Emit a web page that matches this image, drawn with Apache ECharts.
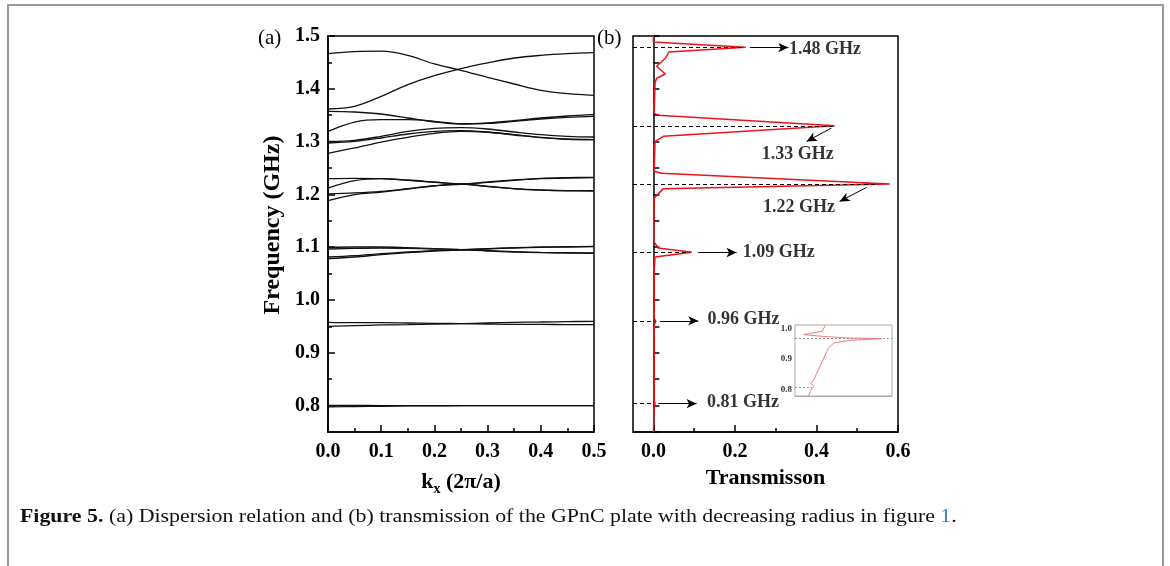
<!DOCTYPE html>
<html>
<head>
<meta charset="UTF-8">
<title>Figure 5</title>
<script src="https://cdn.jsdelivr.net/npm/echarts@6/dist/echarts.min.js"></script>
<style>
body{margin:0;background:#fff;}
#wrap{position:relative;width:1170px;height:566px;overflow:hidden;}
#frame{position:absolute;left:7px;top:4px;width:1153px;height:600px;border:2px solid #9a9a9a;border-bottom:none;}
#main{position:absolute;left:0;top:0;width:1170px;height:566px;}
</style>
</head>
<body>
<div id="wrap"><div id="frame"></div><div id="main"></div></div>
<script>
// (a) dispersion bands, frequency (GHz) at each kx
var kx = [0, 0.05, 0.1, 0.15, 0.2, 0.25, 0.3, 0.35, 0.4, 0.45, 0.5];
var bandA = [1.4665, 1.4705, 1.4712, 1.4634, 1.4470, 1.4350, 1.4217, 1.4091, 1.3971, 1.3908, 1.3876];
var bandB = [1.3617, 1.3668, 1.3857, 1.4078, 1.4249, 1.4381, 1.4489, 1.4583, 1.4634, 1.4665, 1.4684];
var bandC = [1.3573, 1.3561, 1.3523, 1.3447, 1.3371, 1.3333, 1.3352, 1.3396, 1.3447, 1.3485, 1.3510];
var bandD = [1.3194, 1.3371, 1.3415, 1.3415, 1.3384, 1.3340, 1.3346, 1.3384, 1.3428, 1.3460, 1.3479];
var bandE1 = [1.3005, 1.3024, 1.3100, 1.3194, 1.3251, 1.3264, 1.3239, 1.3182, 1.3131, 1.3100, 1.3087];
var bandE2 = [1.2973, 1.3005, 1.3068, 1.3144, 1.3194, 1.3207, 1.3182, 1.3131, 1.3081, 1.3049, 1.3037];
var bandE3 = [1.2778, 1.2879, 1.2992, 1.3081, 1.3157, 1.3194, 1.3176, 1.3125, 1.3074, 1.3043, 1.3037];
var bandG1 = [1.2298, 1.2304, 1.2298, 1.2266, 1.2229, 1.2197, 1.2153, 1.2109, 1.2083, 1.2071, 1.2071];
var bandG2 = [1.2121, 1.2260, 1.2298, 1.2273, 1.2235, 1.2197, 1.2235, 1.2273, 1.2304, 1.2317, 1.2323];
var bandG3 = [1.2008, 1.2027, 1.2058, 1.2109, 1.2165, 1.2197, 1.2150, 1.2106, 1.2080, 1.2068, 1.2064];
var bandG4 = [1.1881, 1.1995, 1.2045, 1.2102, 1.2159, 1.2191, 1.2229, 1.2266, 1.2298, 1.2311, 1.2317];
var bandH1 = [1.0997, 1.1004, 1.1004, 1.0991, 1.0972, 1.0953, 1.0934, 1.0915, 1.0903, 1.0896, 1.0890];
var bandH2 = [1.0966, 1.0979, 1.0985, 1.0979, 1.0966, 1.0953, 1.0928, 1.0909, 1.0896, 1.0890, 1.0884];
var bandH3 = [1.0814, 1.0840, 1.0878, 1.0909, 1.0934, 1.0953, 1.0972, 1.0991, 1.1004, 1.1010, 1.1016];
var bandH4 = [1.0783, 1.0814, 1.0859, 1.0896, 1.0928, 1.0947, 1.0966, 1.0985, 1.0997, 1.1004, 1.1010];
var bandI1 = [0.9577, 0.9571, 0.9571, 0.9564, 0.9558, 0.9552, 0.9545, 0.9539, 0.9539, 0.9533, 0.9533];
var bandI2 = [0.9501, 0.9514, 0.9527, 0.9533, 0.9545, 0.9552, 0.9564, 0.9577, 0.9583, 0.9590, 0.9596];
var bandJ1 = [0.8005, 0.8003, 0.8001, 0.8000, 0.8000, 0.8000, 0.8000, 0.8000, 0.8000, 0.8000, 0.8000];
var bandJ2 = [0.7975, 0.7982, 0.7988, 0.7993, 0.7996, 0.7998, 0.7999, 0.7999, 0.8000, 0.8000, 0.8000];
var bands = [bandA, bandB, bandC, bandD, bandE1, bandE2, bandE3, bandG1, bandG2, bandG3, bandG4,
             bandH1, bandH2, bandH3, bandH4, bandI1, bandI2, bandJ1, bandJ2];

// (b) transmission curve, read top to bottom
var transVal  = [0, 0, 0.226, 0.038, 0.030, 0.008, 0.029, 0.008, 0.004, 0.002, 0.012, 0.445, 0.0245, 0.004,
                 0.002, 0.020, 0.58, 0.0245, 0.002, 0.001, 0.012, 0.094, 0.004, 0.002, 0.002, 0.006, 0.002,
                 0.002, 0.004, 0.002, 0];
var transFreq = [1.5, 1.4886, 1.4785, 1.4697, 1.4583, 1.4426, 1.428, 1.420, 1.411, 1.354, 1.350, 1.330, 1.310, 1.3005,
                 1.2437, 1.240, 1.2197, 1.2109, 1.1932, 1.1111, 1.0985, 1.0903, 1.0815, 1.0574, 0.9658, 0.9595, 0.9533,
                 0.81, 0.8036, 0.797, 0.75];

// peaks marked with dashed lines, arrows and labels
var peakFreq  = [1.478, 1.33, 1.2197, 1.09, 0.9598, 0.8036];
var dashEnd   = [0.225, 0.445, 0.545, 0.09, 0.0, 0.0];
var peakText  = ['1.48 GHz', '1.33 GHz', '1.22 GHz', '1.09 GHz', '0.96 GHz', '0.81 GHz'];
var arrowFrom = [[0.237, 1.478], [0.437, 1.3258], [0.523, 1.2133], [0.110, 1.09], [0.016, 0.9605], [0.012, 0.8036]];
var arrowTo   = [[0.331, 1.478], [0.376, 1.3004], [0.457, 1.1867], [0.204, 1.09], [0.110, 0.9605], [0.106, 0.8036]];
var textAt    = [[0.3325, 1.474], [0.2655, 1.2765], [0.269, 1.1754], [0.219, 1.0894], [0.133, 0.9627], [0.1315, 0.8055]];

// inset: zoom of the 0.78-1.0 GHz region
var insetX = [2.75, 2.45, 0.78, 2.6, 4.87, 7.89, 4.87, 3.5, 3.04, 1.69, 1.45, 1.69, 1.45, 1.23];
var insetF = [1.011, 0.992, 0.981, 0.975, 0.970, 0.9677, 0.962, 0.953, 0.937, 0.831, 0.82, 0.809, 0.798, 0.778];

var SERIF = 'Liberation Serif';
var tickFont = {fontFamily: SERIF, fontWeight: 'bold', fontSize: 20, color: '#000'};
var blk = {lineStyle: {color: '#000', width: 1.5}};

function pairs(xs, ys) { return xs.map(function (x, i) { return [x, ys[i]]; }); }

var series = bands.map(function (b) {
    return {
        type: 'line', xAxisIndex: 0, yAxisIndex: 0, data: pairs(kx, b),
        smooth: 0.35, showSymbol: false, silent: true,
        lineStyle: {color: '#111', width: 1.3}
    };
});

series.push({
    type: 'line', xAxisIndex: 1, yAxisIndex: 2, data: pairs(transVal, transFreq),
    showSymbol: false, silent: true, z: 3,
    lineStyle: {color: '#e8141b', width: 1.5},
    markLine: {
        silent: true, symbol: ['none', 'none'],
        lineStyle: {color: '#000', width: 1, type: [4, 3]},
        label: {show: false},
        data: peakFreq.map(function (f, i) { return [{coord: [-0.05, f]}, {coord: [dashEnd[i], f]}]; })
    }
});

series.push({
    type: 'scatter', xAxisIndex: 1, yAxisIndex: 2, symbolSize: 0, silent: true,
    data: textAt.map(function (p, i) { return {value: p, name: peakText[i]}; }),
    label: {show: true, position: 'right', distance: 0, formatter: '{b}',
            fontFamily: SERIF, fontWeight: 'bold', fontSize: 18, color: '#000'},
    markLine: {
        silent: true, symbol: ['none', 'arrow'], symbolSize: [7, 10],
        lineStyle: {color: '#000', width: 1, type: 'solid'},
        label: {show: false},
        data: arrowFrom.map(function (p, i) { return [{coord: p}, {coord: arrowTo[i]}]; })
    }
});

series.push({
    type: 'line', xAxisIndex: 3, yAxisIndex: 3, data: pairs(insetX, insetF),
    showSymbol: false, silent: true, z: 6,
    lineStyle: {color: '#f07a7a', width: 1},
    markLine: {
        silent: true, symbol: ['none', 'none'],
        lineStyle: {color: '#999', width: 1, type: [2, 2]},
        label: {show: false},
        data: [
            [{coord: [0, 0.9677]}, {coord: [8.8, 0.9677]}],
            [{coord: [0, 0.807]}, {coord: [1.55, 0.807]}]
        ]
    }
});

var chart = echarts.init(document.getElementById('main'));
chart.setOption({
    animation: false,
    backgroundColor: 'transparent',
    grid: [
        {left: 328, top: 36, width: 266, height: 396, show: true, borderColor: '#000', borderWidth: 1.5},
        {left: 633, top: 36, width: 265, height: 396, show: true, borderColor: '#000', borderWidth: 1.5},
        {left: 795, top: 325, width: 97, height: 71, show: true, borderColor: '#aaa', borderWidth: 1,
         backgroundColor: '#fff', z: 5}
    ],
    xAxis: [
        {gridIndex: 0, type: 'value', min: 0, max: 0.5, interval: 0.1,
         axisLine: blk, splitLine: {show: false},
         axisTick: {inside: true, length: 7, lineStyle: {color: '#000', width: 1.5}},
         minorTick: {show: true, splitNumber: 2, length: 4, lineStyle: {color: '#000', width: 1.5}},
         axisLabel: Object.assign({margin: 10, formatter: function (v) { return v.toFixed(1); }}, tickFont),
         name: '{k|k}{s|x}{k| (2π/a)}', nameLocation: 'middle', nameGap: 36,
         nameTextStyle: {rich: {
             k: {fontFamily: SERIF, fontWeight: 'bold', fontSize: 22, color: '#000'},
             s: {fontFamily: SERIF, fontWeight: 'bold', fontSize: 14, color: '#000', padding: [14, 0, 0, 0]}
         }}},
        {gridIndex: 1, type: 'value', min: -0.05, max: 0.6,
         axisLine: blk, splitLine: {show: false},
         axisTick: {inside: true, length: 7, customValues: [0, 0.2, 0.4, 0.6], lineStyle: {color: '#000', width: 1.5}},
         axisLabel: Object.assign({margin: 10, customValues: [0, 0.2, 0.4, 0.6],
                                   formatter: function (v) { return v.toFixed(1); }}, tickFont),
         name: 'Transmisson', nameLocation: 'middle', nameGap: 34,
         nameTextStyle: {fontFamily: SERIF, fontWeight: 'bold', fontSize: 22, color: '#000'}},
        {gridIndex: 1, type: 'value', min: -0.05, max: 0.6, position: 'bottom',
         axisLine: {show: false}, splitLine: {show: false}, axisLabel: {show: false},
         axisTick: {inside: true, length: 4, customValues: [0.1, 0.3, 0.5], lineStyle: {color: '#000', width: 1.5}}},
        {gridIndex: 2, type: 'value', min: 0, max: 8.8,
         axisLine: {lineStyle: {color: '#aaa', width: 1}}, splitLine: {show: false}, axisLabel: {show: false},
         axisTick: {inside: true, length: 2, customValues: [2, 3, 4, 5, 6, 7, 8], lineStyle: {color: '#999'}}}
    ],
    yAxis: [
        {gridIndex: 0, type: 'value', min: 0.75, max: 1.5,
         axisLine: blk, splitLine: {show: false},
         axisTick: {inside: true, length: 7, customValues: [0.8, 0.9, 1.0, 1.1, 1.2, 1.3, 1.4, 1.5],
                    lineStyle: {color: '#000', width: 1.5}},
         axisLabel: Object.assign({margin: 8, customValues: [0.8, 0.9, 1.0, 1.1, 1.2, 1.3, 1.4, 1.5],
                                   formatter: function (v) { return v.toFixed(1); }}, tickFont),
         name: 'Frequency (GHz)', nameLocation: 'middle', nameGap: 43,
         nameTextStyle: {fontFamily: SERIF, fontWeight: 'bold', fontSize: 24, color: '#000', padding: [0, 0, 0, 18]}},
        {gridIndex: 0, type: 'value', min: 0.75, max: 1.5, position: 'left',
         axisLine: {show: false}, splitLine: {show: false}, axisLabel: {show: false},
         axisTick: {inside: true, length: 4, customValues: [0.85, 0.95, 1.05, 1.15, 1.25, 1.35, 1.45],
                    lineStyle: {color: '#000', width: 1.5}}},
        {gridIndex: 1, type: 'value', min: 0.75, max: 1.5, interval: 0.05,
         axisLine: blk, splitLine: {show: false}, axisLabel: {show: false},
         axisTick: {inside: true, length: 6, lineStyle: {color: '#000', width: 1.5}}},
        {gridIndex: 2, type: 'value', min: 0.778, max: 1.013,
         axisLine: {lineStyle: {color: '#aaa', width: 1}}, splitLine: {show: false},
         axisTick: {inside: true, length: 2, customValues: [0.8, 0.85, 0.9, 0.95, 1.0], lineStyle: {color: '#999'}},
         axisLabel: {margin: 3, customValues: [0.8, 0.9, 1.0], fontFamily: SERIF, fontWeight: 'bold',
                     fontSize: 9, color: '#333', formatter: function (v) { return v.toFixed(1); }}}
    ],
    graphic: [
        {type: 'text', left: 258, top: 28, style: {text: '(a)', font: '21px "Liberation Serif"', fill: '#000'}},
        {type: 'text', left: 597, top: 28, style: {text: '(b)', font: '21px "Liberation Serif"', fill: '#000'}},
        {type: 'text', x: 20, y: 508, scaleX: 1.215, style: {
            text: '{b|Figure 5.} (a) Dispersion relation and (b) transmission of the GPnC plate with decreasing radius in figure {l|1}.',
            font: '18px "Liberation Serif"', fill: '#111',
            rich: {
                b: {fontFamily: SERIF, fontWeight: 'bold', fontSize: 18, fill: '#111'},
                l: {fontFamily: SERIF, fontSize: 18, fill: '#3a7cc2'}
            }
        }}
    ],
    series: series
});
</script>
</body>
</html>
